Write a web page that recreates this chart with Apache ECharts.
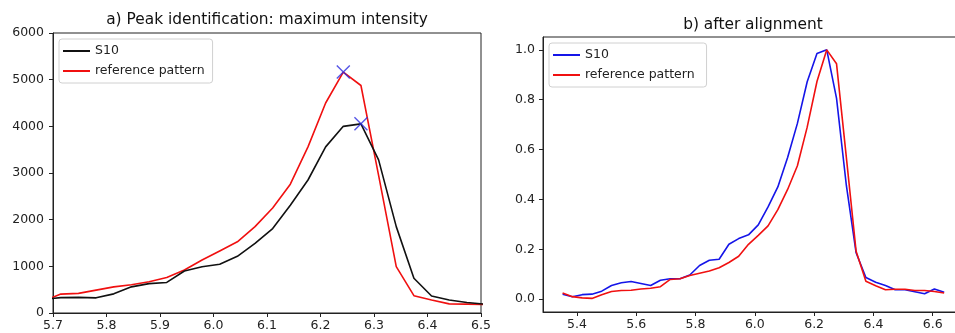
<!DOCTYPE html>
<html>
<head>
<meta charset="utf-8">
<script src="https://cdn.jsdelivr.net/npm/echarts@6/dist/echarts.min.js"></script>
<style>
html,body{margin:0;padding:0;background:#fff;}
#chart{width:955px;height:333px;}
</style>
</head>
<body>
<div id="chart"></div>
<script>
// ---- Panel a) raw intensities ----
var xA = [5.6816,5.7146,5.7476,5.7806,5.8136,5.8466,5.8796,5.9126,5.9456,5.9786,6.0116,6.0446,6.0776,6.1106,6.1436,6.1766,6.2096,6.2426,6.2756,6.3086,6.3416,6.3746,6.4076,6.4406,6.4736,6.5066];
var s10A = [290,330,335,325,410,560,630,655,900,990,1045,1215,1490,1810,2310,2850,3560,4000,4053,3281,1851,744,365,280,225,190];
var refA = [258,405,420,490,560,605,670,760,920,1135,1330,1525,1850,2250,2760,3560,4500,5162,4875,2950,993,371,279,195,190,185];
var peaksA = [[6.2426,5162],[6.2756,4053]];
var xTicksA = [5.7,5.8,5.9,6.0,6.1,6.2,6.3,6.4,6.5];

// ---- Panel b) normalized, after alignment ----
var xB = [5.3516,5.3846,5.4176,5.4506,5.4836,5.5166,5.5496,5.5826,5.6156,5.6486,5.6816,5.7146,5.7476,5.7806,5.8136,5.8466,5.8796,5.9126,5.9456,5.9786,6.0116,6.0446,6.0776,6.1106,6.1436,6.1766,6.2096,6.2426,6.2756,6.3086,6.3416,6.3746,6.4076,6.4406,6.4736,6.5066,6.5396,6.5726,6.6056,6.6386];
var s10B = [0.020,0.010,0.018,0.020,0.032,0.055,0.066,0.071,0.063,0.055,0.076,0.082,0.082,0.097,0.135,0.156,0.160,0.220,0.243,0.258,0.298,0.370,0.450,0.568,0.705,0.872,0.985,1.000,0.805,0.457,0.186,0.087,0.068,0.055,0.038,0.038,0.030,0.022,0.041,0.028];
var refB = [0.025,0.010,0.005,0.003,0.018,0.031,0.035,0.036,0.041,0.044,0.050,0.079,0.082,0.095,0.104,0.113,0.126,0.147,0.172,0.220,0.256,0.294,0.359,0.440,0.535,0.690,0.873,1.000,0.944,0.570,0.192,0.072,0.054,0.038,0.040,0.040,0.035,0.035,0.031,0.025];
var xTicksB = [5.4,5.6,5.8,6.0,6.2,6.4,6.6];
var yTicksB = [0.0,0.2,0.4,0.6,0.8,1.0];

var titleA = 'a) Peak identification: maximum intensity';
var titleB = 'b) after alignment';

function pairs(xs, ys){ return xs.map(function(x,i){ return [x, ys[i]]; }); }

var FONT = 'DejaVu Sans';
var labelStyle = {color:'#222', fontFamily:FONT, fontSize:12.5};

var chart = echarts.init(document.getElementById('chart'), null, {renderer:'canvas'});
var option = {
  animation:false,
  backgroundColor:'#fff',
  textStyle:{fontFamily:FONT},
  graphic:[
    {type:'text', x:267, y:20, style:{text:titleA, fill:'#111', font:'15.4px "DejaVu Sans"', textAlign:'center', textVerticalAlign:'middle'}},
    {type:'text', x:753, y:25, style:{text:titleB, fill:'#111', font:'15.4px "DejaVu Sans"', textAlign:'center', textVerticalAlign:'middle'}}
  ],
  grid:[
    {left:53, width:428, top:33, height:280, show:true, borderColor:'#222', borderWidth:1, containLabel:false, outerBoundsMode:'none'},
    {left:543, width:420.7, top:37, height:275, show:true, borderColor:'#222', borderWidth:1, containLabel:false, outerBoundsMode:'none'}
  ],
  legend:[
    {
      data:['S10','reference pattern'],
      left:59, top:39, orient:'vertical',
      icon:'rect', itemWidth:27, itemHeight:2, itemGap:6,
      padding:[5,8,5,4],
      borderColor:'#d0d0d0', borderWidth:1, borderRadius:3,
      backgroundColor:'rgba(255,255,255,0.8)',
      textStyle:{color:'#222', fontFamily:FONT, fontSize:12.5, lineHeight:14},
      selectedMode:false
    },
    {
      data:['S10 ','reference pattern '],
      left:549, top:43, orient:'vertical',
      icon:'rect', itemWidth:27, itemHeight:2, itemGap:6,
      padding:[5,8,5,4],
      borderColor:'#d0d0d0', borderWidth:1, borderRadius:3,
      backgroundColor:'rgba(255,255,255,0.8)',
      textStyle:{color:'#222', fontFamily:FONT, fontSize:12.5, lineHeight:14},
      selectedMode:false
    }
  ],
  xAxis:[
    {type:'value', gridIndex:0, min:5.7, max:6.5,
     axisLine:{show:true, onZero:false, lineStyle:{color:'#222'}},
     axisTick:{show:true, length:4, customValues:xTicksA, lineStyle:{color:'#222'}},
     axisLabel:Object.assign({margin:6, customValues:xTicksA, formatter:function(v){return v.toFixed(1);}}, labelStyle),
     splitLine:{show:false}},
    {type:'value', gridIndex:1, min:5.2855, max:6.7045,
     axisLine:{show:true, onZero:false, lineStyle:{color:'#222'}},
     axisTick:{show:true, length:4, customValues:xTicksB, lineStyle:{color:'#222'}},
     axisLabel:Object.assign({margin:6, customValues:xTicksB, formatter:function(v){return v.toFixed(1);}}, labelStyle),
     splitLine:{show:false}}
  ],
  yAxis:[
    {type:'value', gridIndex:0, min:0, max:6000, interval:1000,
     axisLine:{show:true, onZero:false, lineStyle:{color:'#222'}},
     axisTick:{show:true, length:4, lineStyle:{color:'#222'}},
     axisLabel:Object.assign({margin:9, formatter:function(v){return String(Math.round(v));}}, labelStyle),
     splitLine:{show:false}},
    {type:'value', gridIndex:1, min:-0.0515, max:1.0515,
     axisLine:{show:true, onZero:false, lineStyle:{color:'#222'}},
     axisTick:{show:true, length:4, customValues:yTicksB, lineStyle:{color:'#222'}},
     axisLabel:Object.assign({margin:8, customValues:yTicksB, formatter:function(v){return v.toFixed(1);}}, labelStyle),
     splitLine:{show:false}}
  ],
  series:[
    {name:'S10', type:'line', xAxisIndex:0, yAxisIndex:0, data:pairs(xA, s10A), showSymbol:false, color:'#111111', lineStyle:{width:1.6, color:'#111111'}, clip:true, z:3},
    {name:'reference pattern', type:'line', xAxisIndex:0, yAxisIndex:0, data:pairs(xA, refA), showSymbol:false, color:'#f01010', lineStyle:{width:1.6, color:'#f01010'}, clip:true, z:2},
    {name:'peaks', type:'scatter', xAxisIndex:0, yAxisIndex:0, data:peaksA, symbol:'path://M0,0L10,10M10,0L0,10', symbolSize:13, itemStyle:{color:'none', borderColor:'#2a2ae0', borderWidth:1.4}, z:5},
    {name:'S10 ', type:'line', xAxisIndex:1, yAxisIndex:1, data:pairs(xB, s10B), showSymbol:false, color:'#1515e8', lineStyle:{width:1.6, color:'#1515e8'}, clip:true, z:2},
    {name:'reference pattern ', type:'line', xAxisIndex:1, yAxisIndex:1, data:pairs(xB, refB), showSymbol:false, color:'#f01010', lineStyle:{width:1.6, color:'#f01010'}, clip:true, z:3}
  ]
};
chart.setOption(option);
</script>
</body>
</html>
